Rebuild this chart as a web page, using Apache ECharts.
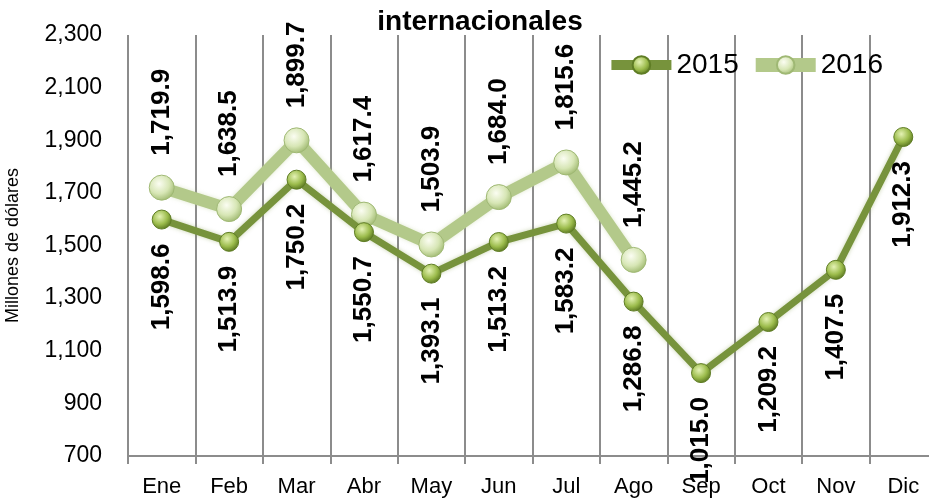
<!DOCTYPE html>
<html>
<head>
<meta charset="utf-8">
<script src="https://cdn.jsdelivr.net/npm/echarts@6/dist/echarts.min.js"></script>
<style>
  html, body { margin: 0; padding: 0; background: #fff; }
  #chart { width: 929px; height: 502px; }
</style>
</head>
<body>
<div id="chart"></div>
<script>
// datos
var meses = ['Ene', 'Feb', 'Mar', 'Abr', 'May', 'Jun', 'Jul', 'Ago', 'Sep', 'Oct', 'Nov', 'Dic'];
var datos2015 = [1598.6, 1513.9, 1750.2, 1550.7, 1393.1, 1513.2, 1583.2, 1286.8, 1015.0, 1209.2, 1407.5, 1912.3];
var datos2016 = [1719.9, 1638.5, 1899.7, 1617.4, 1503.9, 1684.0, 1815.6, 1445.2];

function fmt(v, dec) {
  return Number(v).toLocaleString('en-US', { minimumFractionDigits: dec, maximumFractionDigits: dec });
}

function bola(claro, medio, oscuro) {
  return {
    type: 'radial', x: 0.4, y: 0.35, r: 0.65,
    colorStops: [
      { offset: 0, color: claro },
      { offset: 0.6, color: medio },
      { offset: 1, color: oscuro }
    ]
  };
}

var fuente = '"Liberation Sans", Arial, sans-serif';

var myChart = echarts.init(document.getElementById('chart'));
var option = {
  animation: false,
  title: {
    text: 'internacionales',
    left: 475,
    textAlign: 'center',
    top: 3,
    textStyle: { fontFamily: fuente, fontSize: 28, fontWeight: 'bold', color: '#000' }
  },
  legend: {
    right: 41,
    top: 46,
    itemWidth: 60,
    itemHeight: 22,
    itemGap: 10,
    textStyle: { fontFamily: fuente, fontSize: 28, color: '#000' },
    data: [
      { name: '2015', lineStyle: { width: 10, color: '#77933c' } },
      { name: '2016', lineStyle: { width: 14, color: '#b3c98a' } }
    ]
  },
  grid: {
    left: 128,
    right: -8,
    top: 35,
    bottom: 46,
    containLabel: false,
    outerBoundsMode: 'none'
  },
  xAxis: {
    type: 'category',
    data: meses,
    boundaryGap: true,
    axisLine: { lineStyle: { color: '#8c8c8c', width: 2 } },
    axisTick: { show: true, length: 8, lineStyle: { color: '#8c8c8c', width: 2 } },
    axisLabel: { fontFamily: fuente, fontSize: 22, color: '#000', margin: 20 },
    splitLine: { show: true, lineStyle: { color: '#8c8c8c', width: 2 } }
  },
  yAxis: {
    type: 'value',
    min: 700,
    max: 2300,
    interval: 200,
    name: 'Millones de dólares',
    nameLocation: 'middle',
    nameGap: 106,
    nameTextStyle: { fontFamily: fuente, fontSize: 18, color: '#000' },
    axisLine: { show: false },
    axisTick: { show: false },
    splitLine: { show: false },
    axisLabel: {
      fontFamily: fuente, fontSize: 23, color: '#000', margin: 26,
      formatter: function (v) { return fmt(v, 0); }
    }
  },
  series: [{
    name: '2015',
    type: 'line',
    data: datos2015,
    z: 3,
    symbol: 'circle',
    symbolSize: 19,
    lineStyle: { color: '#77933c', width: 7, shadowColor: 'rgba(119,147,60,0.4)', shadowBlur: 4 },
    itemStyle: {
      color: bola('#e4f2b4', '#9cbc4c', '#5d7a22'),
      borderColor: '#5f7d25',
      borderWidth: 1
    },
    label: {
      show: true,
      position: 'bottom',
      distance: 14,
      rotate: 90,
      align: 'right',
      verticalAlign: 'middle',
      fontFamily: fuente,
      fontSize: 26,
      fontWeight: 'bold',
      color: '#000',
      formatter: function (p) { return fmt(p.value, 1); }
    }
  }, {
    name: '2016',
    type: 'line',
    data: datos2016,
    z: 2,
    symbol: 'circle',
    symbolSize: 25,
    lineStyle: { color: '#b3c98a', width: 12, shadowColor: 'rgba(179,201,138,0.4)', shadowBlur: 4 },
    itemStyle: {
      color: bola('#fbfdf2', '#d7e6b5', '#a4bd76'),
      borderColor: '#9fb874',
      borderWidth: 1
    },
    label: {
      show: true,
      position: 'top',
      distance: 19,
      rotate: 90,
      align: 'left',
      verticalAlign: 'middle',
      fontFamily: fuente,
      fontSize: 26,
      fontWeight: 'bold',
      color: '#000',
      formatter: function (p) { return fmt(p.value, 1); }
    }
  }]
};
myChart.setOption(option);
</script>
</body>
</html>
